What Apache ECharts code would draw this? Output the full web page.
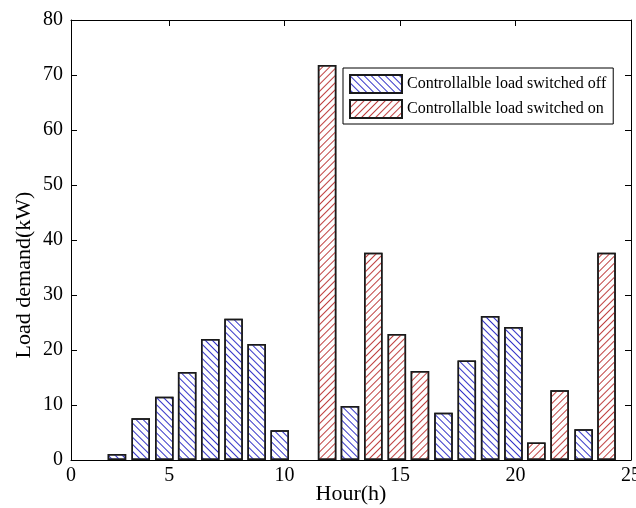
<!DOCTYPE html>
<html>
<head>
<meta charset="utf-8">
<script src="https://cdn.jsdelivr.net/npm/echarts@6/dist/echarts.min.js"></script>
<style>
  html, body { margin: 0; padding: 0; background: #fff; }
  #chart { width: 636px; height: 508px; }
</style>
</head>
<body>
<div id="chart"></div>
<script>
// bar positions on the hour axis
let hourPos = [2.74, 3.77, 4.79, 5.78, 6.78, 7.79, 8.79, 9.79, 11.84, 12.83, 13.84, 14.86, 15.86, 16.88, 17.89, 18.9, 19.91, 20.9, 21.91, 22.95, 23.94]
// load (kW); null where the other series owns the slot
let switchedOff = [1.1, 7.6, 11.5, 16, 22, 25.7, 21.1, 5.4, null, 9.8, null, null, null, 8.6, 18.1, 26.2, 24.2, null, null, 5.6, null]
let switchedOn = [null, null, null, null, null, null, null, null, 71.8, null, 37.7, 22.9, 16.2, null, null, null, null, 3.2, 12.7, null, 37.7]
let xTickLabels = [0.75, 5, 10, 15, 20, 25]
let xTicks = [5, 10, 15, 20]
let seriesNames = ['Controllalble load switched off', 'Controllalble load switched on']

const font = "'Liberation Serif', 'Times New Roman', serif"

// striped decal, rotation sets the direction of the hatch
let hatch = (color, rotation) => ({
  symbol: 'rect',
  symbolSize: 1,
  dashArrayX: [1, 0],
  dashArrayY: [1, 3.5],
  rotation: rotation,
  color: color
})

let toPairs = arr => arr.map((v, i) => v === null ? null : [hourPos[i], v]).filter(v => v)

let axisBase = {
  axisLine: { show: true, onZero: false, lineStyle: { color: '#000', width: 1 } },
  splitLine: { show: false }
}

let chart = echarts.init(document.getElementById('chart'))
chart.setOption({
  animation: false,
  backgroundColor: '#fff',
  textStyle: { fontFamily: font },
  grid: { left: 71, right: 5, top: 20, bottom: 48, outerBoundsMode: 'none', containLabel: false },
  legend: {
    orient: 'vertical',
    left: 343,
    top: 68,
    padding: [6, 7, 5, 6],
    itemGap: 5,
    itemWidth: 52,
    itemHeight: 18,
    icon: 'rect',
    borderColor: '#000',
    borderWidth: 1,
    backgroundColor: '#fff',
    textStyle: { fontFamily: font, fontSize: 16, color: '#000' },
    data: seriesNames
  },
  xAxis: [{
    ...axisBase,
    type: 'value',
    min: 0.75,
    max: 25,
    name: 'Hour(h)',
    nameLocation: 'middle',
    nameGap: 23,
    nameMoveOverlap: false,
    nameTextStyle: { fontFamily: font, fontSize: 22, color: '#000' },
    axisTick: { show: true, inside: true, length: 6, customValues: xTicks, lineStyle: { color: '#000' } },
    axisLabel: {
      customValues: xTickLabels,
      margin: 6,
      fontFamily: font,
      fontSize: 20,
      color: '#000',
      formatter: v => v < 1 ? '0' : String(v)
    }
  }, {
    ...axisBase,
    type: 'value',
    position: 'top',
    min: 0.75,
    max: 25,
    axisTick: { show: true, inside: true, length: 6, customValues: xTicks, lineStyle: { color: '#000' } },
    axisLabel: { show: false }
  }],
  yAxis: [{
    ...axisBase,
    type: 'value',
    min: 0,
    max: 80,
    interval: 10,
    name: 'Load demand(kW)',
    nameLocation: 'middle',
    nameGap: 36,
    nameMoveOverlap: false,
    nameTextStyle: { fontFamily: font, fontSize: 22, color: '#000', padding: [0, 70, 0, 0] },
    axisTick: { show: true, inside: true, length: 6, lineStyle: { color: '#000' } },
    axisLabel: { margin: 8, fontFamily: font, fontSize: 20, color: '#000' }
  }, {
    ...axisBase,
    type: 'value',
    position: 'right',
    min: 0,
    max: 80,
    interval: 10,
    axisTick: { show: true, inside: true, length: 6, lineStyle: { color: '#000' } },
    axisLabel: { show: false }
  }],
  series: [{
    name: seriesNames[0],
    type: 'bar',
    barWidth: 18.5,
    barGap: '-100%',
    data: toPairs(switchedOff),
    itemStyle: { color: '#fff', decal: hatch('#3434c8', Math.PI / 4), borderColor: '#1a1a1a', borderWidth: 1.5 }
  }, {
    name: seriesNames[1],
    type: 'bar',
    barWidth: 18.5,
    barGap: '-100%',
    data: toPairs(switchedOn),
    itemStyle: { color: '#fff', decal: hatch('#bf4040', -Math.PI / 4), borderColor: '#1a1a1a', borderWidth: 1.5 }
  }]
})
</script>
</body>
</html>
